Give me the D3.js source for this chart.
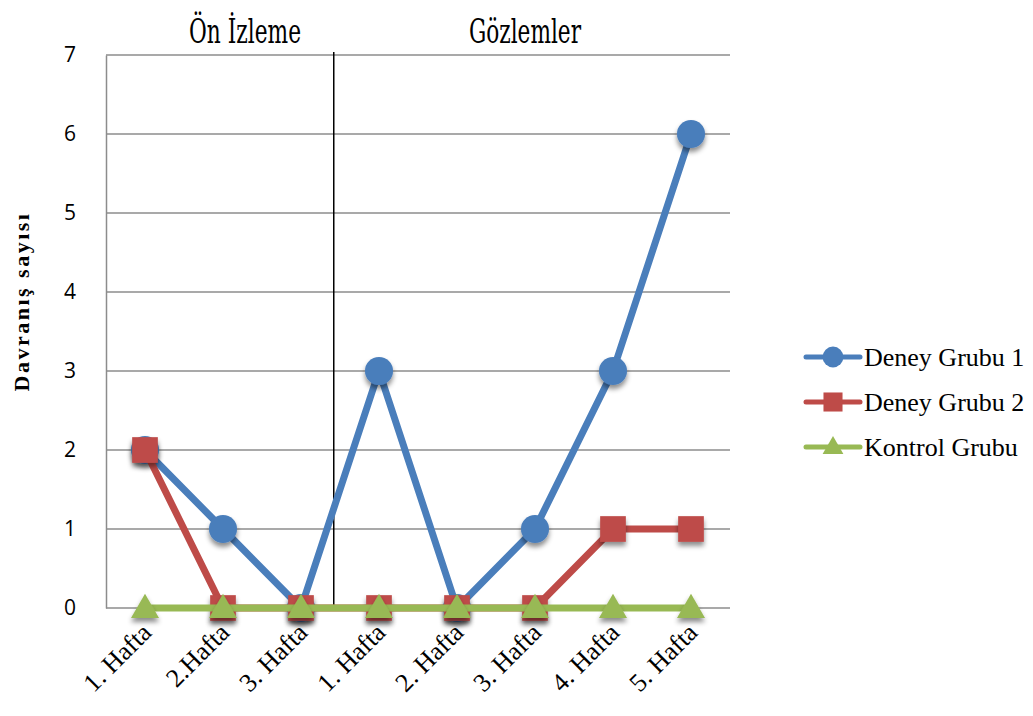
<!DOCTYPE html>
<html>
<head>
<meta charset="utf-8">
<style>
  body { margin: 0; background: #fff; }
</style>
</head>
<body>
<div id="vis"></div>
<script src="https://d3js.org/d3.v7.min.js"></script>
<script>
// data
const weeks = ['1. Hafta', '2.Hafta', '3. Hafta', '1. Hafta', '2. Hafta', '3. Hafta', '4. Hafta', '5. Hafta']
const deney1 = [2, 1, 0, 3, 0, 1, 3, 6]
const deney2 = [2, 0, 0, 0, 0, 0, 1, 1]
const kontrol = [0, 0, 0, 0, 0, 0, 0, 0]
const seriesNames = ['Deney Grubu 1', 'Deney Grubu 2', 'Kontrol Grubu']
const yTicks = [0, 1, 2, 3, 4, 5, 6, 7]
const phases = ['Ön İzleme', 'Gözlemler']

const W = 1033, H = 716
const plot = { left: 106, right: 730, top: 55, bottom: 608 }

const svg = d3.select('#vis').append('svg')
  .attr('width', W).attr('height', H)

// drop shadow for markers
const defs = svg.append('defs')
const f = defs.append('filter').attr('id', 'shadow')
  .attr('x', '-50%').attr('y', '-50%').attr('width', '200%').attr('height', '200%')
f.append('feDropShadow').attr('dx', 0).attr('dy', 4).attr('stdDeviation', 2.5)
  .attr('flood-color', '#000').attr('flood-opacity', 0.45)

const x = d3.scalePoint()
  .domain(d3.range(weeks.length))
  .range([plot.left, plot.right])
  .padding(0.5)
const y = d3.scaleLinear()
  .domain([0, 7])
  .range([plot.bottom, plot.top])

// grid
svg.append('g')
  .selectAll('line')
  .data(yTicks.filter(d => d > 0))
  .join('line')
  .attr('x1', plot.left).attr('x2', plot.right)
  .attr('y1', d => y(d)).attr('y2', d => y(d))
  .attr('stroke', '#8c8c8c').attr('stroke-width', 1.5)

// y axis
const yAxis = svg.append('g')
  .attr('transform', `translate(${plot.left},0)`)
  .call(d3.axisLeft(y).tickValues(yTicks).tickFormat(d3.format('d')).tickSize(0).tickPadding(30))
yAxis.select('.domain').attr('stroke', '#8c8c8c').attr('stroke-width', 1.5)
yAxis.selectAll('text')
  .attr('font-family', 'Open Sans, sans-serif')
  .attr('font-size', 21).attr('fill', '#000')

// x axis baseline
svg.append('line')
  .attr('x1', plot.left).attr('x2', plot.right)
  .attr('y1', y(0)).attr('y2', y(0))
  .attr('stroke', '#8c8c8c').attr('stroke-width', 1.5)

// x tick labels
svg.append('g')
  .selectAll('text')
  .data(weeks)
  .join('text')
  .attr('transform', (d, i) => `translate(${x(i) + 8},${y(0) + 26}) rotate(-45)`)
  .attr('text-anchor', 'end')
  .attr('font-family', 'Liberation Serif, serif')
  .attr('font-size', 26)
  .text(d => d)

// y title
svg.append('text')
  .attr('transform', `translate(29,${(plot.top + plot.bottom) / 2 - 30}) rotate(-90)`)
  .attr('text-anchor', 'middle')
  .attr('font-family', 'Liberation Serif, serif')
  .attr('font-weight', 'bold')
  .attr('font-size', 22)
  .attr('letter-spacing', 2.5)
  .text('Davranış sayısı')

// phase divider between 3. and 4. week
const step = x.step()
const divX = x(2) + step * 0.42
svg.append('line')
  .attr('x1', divX).attr('x2', divX)
  .attr('y1', plot.top - 3).attr('y2', y(0))
  .attr('stroke', '#000').attr('stroke-width', 1.5)

// phase titles
svg.append('g')
  .selectAll('text')
  .data(phases)
  .join('text')
  .attr('x', (d, i) => i === 0 ? (x(0) + x(2)) / 2 + 22 : (x(3) + x(7)) / 2 - 10)
  .attr('y', 43)
  .attr('text-anchor', 'middle')
  .attr('font-family', 'DejaVu Serif Condensed, DejaVu Serif, serif')
  .attr('font-stretch', 'condensed')
  .attr('font-size', 34)
  .attr('textLength', 112)
  .attr('lengthAdjust', 'spacingAndGlyphs')
  .text(d => d)

// series
const series = [
  { name: seriesNames[0], values: deney1, color: '#4a7ebb', shape: 'circle' },
  { name: seriesNames[1], values: deney2, color: '#be4b48', shape: 'square' },
  { name: seriesNames[2], values: kontrol, color: '#98b954', shape: 'triangle' }
]

const line = d3.line()
  .x((d, i) => x(i))
  .y(d => y(d))

function symbolPath(shape, scale) {
  if (shape === 'circle') return d3.symbol(d3.symbolCircle, 620 * scale)()
  if (shape === 'square') return d3.symbol(d3.symbolSquare, 660 * scale)()
  return d3.symbol(d3.symbolTriangle, 340 * scale)()
}

series.forEach(s => {
  const g = svg.append('g')
  g.append('path')
    .datum(s.values)
    .attr('d', line)
    .attr('fill', 'none')
    .attr('stroke', s.color)
    .attr('stroke-width', 7)
    .attr('stroke-linejoin', 'round')
  g.selectAll('path.m')
    .data(s.values)
    .join('path')
    .attr('class', 'm')
    .attr('d', symbolPath(s.shape, 1))
    .attr('transform', (d, i) => `translate(${x(i)},${y(d) + (s.shape === 'triangle' ? 2 : 0)})`)
    .attr('fill', s.color)
    .attr('filter', 'url(#shadow)')
})

// legend
const legend = svg.append('g')
  .selectAll('g')
  .data(series)
  .join('g')
  .attr('transform', (d, i) => `translate(806,${357 + i * 45})`)
legend.append('line')
  .attr('x1', 0).attr('x2', 54)
  .attr('stroke', d => d.color).attr('stroke-width', 5)
  .attr('stroke-linecap', 'round')
legend.append('path')
  .attr('d', d => symbolPath(d.shape, 0.55))
  .attr('transform', d => `translate(27,${d.shape === 'triangle' ? 1 : 0})`)
  .attr('fill', d => d.color)
legend.append('text')
  .attr('x', 58).attr('y', 9)
  .attr('font-family', 'Liberation Serif, serif')
  .attr('font-size', 26)
  .text(d => d.name)
</script>
</body>
</html>
